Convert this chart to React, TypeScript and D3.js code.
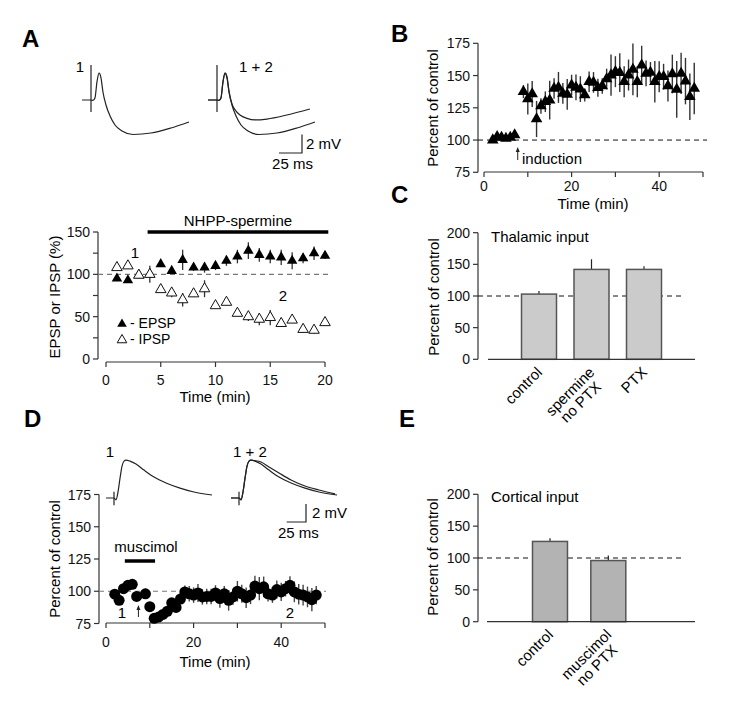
import React from 'react';
import * as d3 from 'd3';

const FONT = "'Liberation Sans', Arial, Helvetica, sans-serif";
const AX = '#333';

// ---------- Panel A data ----------
const timeA = [1, 2, 3, 4, 5, 6, 7, 8, 9, 10, 11, 12, 13, 14, 15, 16, 17, 18, 19, 20];
const epspA = [95, 93, 99, 100, 112, 104, 117, 108, 108, 110, 116, 121, 128, 123, 121, 120, 116, 119, 125, 122];
const epspErrA = [3, 3, 3, 3, 3, 3, 12, 4, 6, 5, 6, 8, 10, 8, 8, 9, 10, 6, 8, 4];
const ipspA = [108, 110, 99, 100, 82, 78, 70, 77, 83, 63, 67, 54, 50, 47, 49, 42, 46, 35, 34, 43];
const ipspErrA = [3, 3, 3, 10, 3, 5, 8, 3, 10, 3, 3, 3, 5, 7, 9, 4, 3, 4, 4, 3];
const drugA = [3.8, 20.3];
const yTicksA = [0, 25, 50, 75, 100, 125, 150];
const yLabelsA = [0, 50, 100, 150];
const xTicksA = [0, 5, 10, 15, 20];

// Panel A traces: [ms, mV]
const traceA1: [number, number][] = [
  [-9.8, 0], [-1, 0], [0, 0], [2.2, -0.05], [4.3, 0.22], [6.5, 1.96], [8.7, 2.93], [10.9, 2.39], [13, 0.87],
  [16.3, -0.54], [20.7, -1.74], [26.1, -2.72], [33.7, -3.37], [45.7, -3.75], [65.2, -3.59], [87, -3.04], [106.5, -2.39],
];
const traceA2: [number, number][] = [
  [-9.8, 0], [-1, 0], [0, 0], [2.2, -0.05], [4.3, 0.22], [6.5, 1.96], [8.7, 2.93], [10.9, 2.5], [13, 1.0],
  [16.3, -0.43], [20.7, -1.2], [25, -1.63], [32.6, -2.0], [41.3, -2.17], [54.3, -2.07], [76, -1.63], [101, -0.98],
];
const artifactA = [3.8, -1.3];

// ---------- Panel B data ----------
const timeB = [2, 3, 4, 5, 6, 7, 9, 10, 11, 12, 13, 14, 15, 16, 17, 18, 19, 20, 21, 22, 23, 24, 25, 26, 27, 28, 29, 30,
  31, 32, 33, 34, 35, 36, 37, 38, 39, 40, 41, 42, 43, 44, 45, 46, 47, 48];
const valB = [100, 102.6, 102, 101.3, 102, 103.9, 137.5, 131.8, 135.7, 116.3, 126.4, 129.7, 131, 140, 140.8, 136.2,
  135.4, 142.6, 140.8, 139.5, 134.9, 145.2, 144.7, 140.6, 141.9, 147.3, 150.4, 153, 152.2, 145.2, 150.4, 154.8, 145.2,
  158.1, 151.7, 152.5, 145.2, 149.1, 149.1, 141.9, 151.2, 139.3, 151.7, 145.7, 133.6, 140];
const errB = [2, 2, 2, 2, 2, 2, 5, 12, 10, 14, 6, 8, 15, 8, 12, 8, 12, 8, 10, 10, 5, 8, 8, 7, 6, 8, 16, 12, 15, 12, 12,
  20, 12, 15, 10, 8, 16, 12, 10, 12, 15, 22, 16, 18, 18, 20];
const yTicksB = [75, 100, 125, 150, 175];
const xTicksB = [0, 10, 20, 30, 40, 50];
const xLabelsB = [0, 20, 40];
const inductionB = 7.7;

// ---------- Panel C data ----------
const catsC = [['control'], ['spermine', 'no PTX'], ['PTX']];
const valC = [103, 142, 142];
const errC = [5, 16, 5];
const yTicksC = [0, 50, 100, 150, 200];

// ---------- Panel D data ----------
const timeD = [2, 3, 4, 5, 6, 7, 9, 10, 11, 12, 13, 14, 15, 16, 17, 18, 19, 20, 21, 22, 23, 24, 25, 26, 27, 28, 29, 30,
  31, 32, 33, 34, 35, 36, 37, 38, 39, 40, 41, 42, 43, 44, 45, 46, 47, 48];
const valD = [97.7, 93, 102, 104.6, 105.4, 96, 98, 88, 79, 80, 82, 84.5, 91, 87.5, 94, 99.5, 98, 97, 98.7, 95.6, 96, 96,
  98.7, 94.3, 98, 93, 95.6, 100, 98, 95, 97, 104, 102, 103.4, 98, 97, 101.3, 99.5, 102, 104.6, 99.5, 97.7, 97, 95.6,
  93.5, 97];
const errD = [3, 3, 3, 3, 3, 3, 4, 3, 2, 2, 2, 3, 3, 3, 4, 5, 6, 6, 7, 6, 6, 6, 6, 7, 6, 8, 6, 8, 7, 8, 7, 8, 9, 8, 6,
  6, 7, 7, 6, 7, 8, 8, 8, 8, 9, 7];
const muscimolD = [4.3, 11.2];
const inductionD = 7.4;
const yTicksD = [75, 100, 125, 150, 175];

const traceD1: [number, number][] = [
  [-10.4, 0], [-1.3, 0], [0, 0], [2.6, -0.2], [5.2, 0.67], [7.8, 2.2], [10.4, 3.55], [13, 4.1], [15.5, 4.2],
  [20.7, 4.1], [28.5, 3.78], [38.9, 3.1], [51.8, 2.33], [67.4, 1.67], [85.5, 1.1], [103.6, 0.67], [127, 0.33],
];
const traceD2: [number, number][] = [
  [-10.4, 0], [-1.3, 0], [0, 0], [2.6, -0.2], [5.2, 0.67], [7.8, 2.2], [10.4, 3.55], [13, 4.1], [15.5, 4.2],
  [20.7, 4.15], [28.5, 4.0], [38.9, 3.45], [51.8, 2.78], [67.4, 2.0], [85.5, 1.33], [103.6, 0.89], [124.4, 0.45],
];
const artifactD = [0.7, -0.8];

// ---------- Panel E data ----------
const catsE = [['control'], ['muscimol', 'no PTX']];
const valE = [126, 96];
const errE = [5, 8];

// ---------- helpers ----------
let _ctx: CanvasRenderingContext2D | null = null;
function textW(s: string, size: number) {
  if (!_ctx) {
    const c = document.createElement('canvas');
    _ctx = c.getContext('2d');
  }
  if (!_ctx) return s.length * size * 0.55;
  _ctx.font = `${size}px 'Liberation Sans', Arial, sans-serif`;
  return _ctx.measureText(s).width;
}

function LeftAxis({ x, scale, ticks, labels, fs = 14 }: any) {
  const [d0, d1] = scale.domain();
  return (
    <g>
      <line x1={x} x2={x} y1={scale(d0)} y2={scale(d1)} stroke={AX} strokeWidth={1.2} />
      {ticks.map((t: number) => (
        <line key={t} x1={x - 5} x2={x} y1={scale(t)} y2={scale(t)} stroke={AX} strokeWidth={1.2} />
      ))}
      {labels.map((t: number) => (
        <text key={t} x={x - 8} y={scale(t)} dy="0.36em" textAnchor="end" fontSize={fs} fill="#111">{t}</text>
      ))}
    </g>
  );
}

function BottomAxis({ y, scale, ticks, labels, fs = 14, labelOff = 18 }: any) {
  const [d0, d1] = scale.domain();
  return (
    <g>
      <line x1={scale(d0)} x2={scale(d1)} y1={y} y2={y} stroke={AX} strokeWidth={1.2} />
      {ticks.map((t: number) => (
        <line key={t} x1={scale(t)} x2={scale(t)} y1={y} y2={y + 5} stroke={AX} strokeWidth={1.2} />
      ))}
      {labels.map((t: number) => (
        <text key={t} x={scale(t)} y={y + labelOff} dy="0.36em" textAnchor="middle" fontSize={fs} fill="#111">{t}</text>
      ))}
    </g>
  );
}

function Arrow({ x, yHead, yTail }: any) {
  return (
    <g>
      <line x1={x} x2={x} y1={yTail} y2={yHead + 3} stroke="#222" strokeWidth={1} />
      <path d={`M${x},${yHead} L${x - 2},${yHead + 5} L${x + 2},${yHead + 5} Z`} fill="#222" />
    </g>
  );
}

function Trace({ ox, oy, xs, ys, pts, art }: any) {
  const line = d3.line<[number, number]>()
    .x((d) => ox + xs(d[0]))
    .y((d) => oy + ys(d[1]))
    .curve(d3.curveMonotoneX);
  return (
    <g>
      <path d={line(pts) || ''} fill="none" stroke="#222" strokeWidth={1.2} />
      {art && <line x1={ox} x2={ox} y1={oy + ys(art[0])} y2={oy + ys(art[1])} stroke="#222" strokeWidth={1.2} />}
    </g>
  );
}

function ScaleBar({ x, y, xs, ys, ms, mv, mvLabel, msLabel, mvDx = 4, msDy = 11 }: any) {
  const w = xs(ms);
  const h = -ys(mv);
  return (
    <g>
      <polyline points={`${x},${y - h} ${x},${y} ${x - w},${y}`} fill="none" stroke="#222" strokeWidth={1.2} />
      <text x={x + mvDx} y={y - h / 2} dy="0.36em" fontSize={15}>{mvLabel}</text>
      <text x={x - w / 2 + 2} y={y + msDy} dy="0.36em" fontSize={15} textAnchor="middle">{msLabel}</text>
    </g>
  );
}

function CatLabel({ x, y, lines, fs = 15 }: any) {
  const widths = lines.map((l: string) => textW(l, fs));
  const maxW = Math.max(...widths);
  return (
    <text transform={`translate(${x},${y}) rotate(-45)`} fontSize={fs}>
      {lines.map((l: string, i: number) => (
        <tspan key={i} x={-maxW / 2} y={i * 15} textAnchor="middle">{l}</tspan>
      ))}
    </text>
  );
}

function BarPanel({ cats, vals, errs, yScale, band, axisX, baseX0, baseX1, fill, title, titleY }: any) {
  const y0 = yScale(0);
  return (
    <g>
      <LeftAxis x={axisX} scale={yScale} ticks={yTicksC} labels={yTicksC} />
      <line x1={axisX} x2={baseX1 - 10} y1={yScale(100)} y2={yScale(100)} stroke="#111" strokeWidth={1} strokeDasharray="5,4" />
      {cats.map((c: string[], i: number) => {
        const bx = band(i)!;
        const cx = bx + band.bandwidth() / 2;
        return (
          <g key={i}>
            <line x1={cx} x2={cx} y1={yScale(vals[i])} y2={yScale(vals[i] + errs[i])} stroke="#222" strokeWidth={1.2} />
            <rect x={bx} y={yScale(vals[i])} width={band.bandwidth()} height={y0 - yScale(vals[i])} fill={fill} stroke="#555" strokeWidth={1.5} />
            <CatLabel x={cx + 4} y={y0 + 14} lines={c} />
          </g>
        );
      })}
      <line x1={baseX0} x2={baseX1} y1={y0} y2={y0} stroke={AX} strokeWidth={1.2} />
      <text x={axisX + 13} y={titleY} dy="0.36em" fontSize={15}>{title}</text>
    </g>
  );
}

export default function App() {
  // Panel A scales
  const xA = d3.scaleLinear().domain([0, 20]).range([106, 325]);
  const yA = d3.scaleLinear().domain([0, 150]).range([359, 232]);
  const msA = d3.scaleLinear().domain([0, 25]).range([0, 23]);
  const mvA = d3.scaleLinear().domain([0, 2]).range([0, -18.4]);

  // Panel B
  const xB = d3.scaleLinear().domain([0, 50]).range([484, 703]);
  const yB = d3.scaleLinear().domain([75, 175]).range([172.3, 43.3]);

  // Panel C
  const yC = d3.scaleLinear().domain([0, 200]).range([359.3, 232.7]);
  const bandC = d3.scaleBand<number>().domain([0, 1, 2]).range([512.75, 670.25]).paddingInner(1 / 3).paddingOuter(1 / 6);

  // Panel D
  const xD = d3.scaleLinear().domain([0, 50]).range([106, 325]);
  const yD = d3.scaleLinear().domain([75, 175]).range([623.5, 494.5]);
  const msD = d3.scaleLinear().domain([0, 25]).range([0, 19.3]);
  const mvD = d3.scaleLinear().domain([0, 2]).range([0, -18]);

  // Panel E
  const yE = d3.scaleLinear().domain([0, 200]).range([621.7, 494.3]);
  const bandE = d3.scaleBand<number>().domain([0, 1]).range([520.85, 637.45]).paddingInner(0.4).paddingOuter(0.2);

  const triFilled = d3.symbol().type(d3.symbolTriangle).size(48)() || '';
  const triLegend = d3.symbol().type(d3.symbolTriangle).size(40)() || '';
  const triB = d3.symbol().type(d3.symbolTriangle).size(58)() || '';

  return (
    <svg width={745} height={723} style={{ position: 'absolute', left: 0, top: 0, background: '#fff' }} fontFamily={FONT}>
      <rect x={0} y={0} width={745} height={723} fill="#fff" />

      {/* Panel letters */}
      <g fontSize={24} fontWeight="bold">
        <text x={22} y={47}>A</text>
        <text x={391} y={42}>B</text>
        <text x={391} y={203}>C</text>
        <text x={24} y={427}>D</text>
        <text x={399} y={427}>E</text>
      </g>

      {/* ===== Panel A traces ===== */}
      <text x={80} y={67} dy="0.36em" textAnchor="middle" fontSize={15}>1</text>
      <Trace ox={91} oy={100} xs={msA} ys={mvA} pts={traceA1} art={artifactA} />
      <text x={256} y={67} dy="0.36em" textAnchor="middle" fontSize={15}>1 + 2</text>
      <Trace ox={217} oy={100} xs={msA} ys={mvA} pts={traceA1} art={artifactA} />
      <Trace ox={217} oy={100} xs={msA} ys={mvA} pts={traceA2} />
      <ScaleBar x={302} y={153} xs={msA} ys={mvA} ms={25} mv={2} mvLabel="2 mV" msLabel="25 ms" mvDx={4} msDy={11} />

      {/* ===== Panel A plot ===== */}
      <LeftAxis x={98} scale={yA} ticks={yTicksA} labels={yLabelsA} />
      <BottomAxis y={362} scale={xA} ticks={xTicksA} labels={xTicksA} />
      <text x={215} y={397} dy="0.36em" textAnchor="middle" fontSize={15}>Time (min)</text>
      <text transform={`translate(55,297) rotate(-90)`} dy="0.36em" textAnchor="middle" fontSize={15}>EPSP or IPSP (%)</text>
      <line x1={98} x2={xA(20) + 3} y1={yA(100)} y2={yA(100)} stroke="#777" strokeWidth={1.2} strokeDasharray="5,4" />
      <line x1={xA(drugA[0])} x2={xA(drugA[1])} y1={232} y2={232} stroke="#000" strokeWidth={3.5} />
      <text x={(xA(drugA[0]) + xA(drugA[1])) / 2} y={221} dy="0.36em" textAnchor="middle" fontSize={15}>NHPP-spermine</text>
      {timeA.map((t, i) => (
        <g key={'ae' + i}>
          <line x1={xA(t)} x2={xA(t)} y1={yA(epspA[i] - epspErrA[i])} y2={yA(epspA[i] + epspErrA[i])} stroke="#333" strokeWidth={1.3} />
          <line x1={xA(t)} x2={xA(t)} y1={yA(ipspA[i] - ipspErrA[i])} y2={yA(ipspA[i] + ipspErrA[i])} stroke="#333" strokeWidth={1.3} />
        </g>
      ))}
      {timeA.map((t, i) => (
        <path key={'ep' + i} d={triFilled} transform={`translate(${xA(t)},${yA(epspA[i])})`} fill="#000" />
      ))}
      {timeA.map((t, i) => (
        <path key={'ip' + i} d={triFilled} transform={`translate(${xA(t)},${yA(ipspA[i])})`} fill="#fff" stroke="#111" strokeWidth={1} />
      ))}
      <text x={135} y={253} dy="0.36em" textAnchor="middle" fontSize={15}>1</text>
      <text x={283} y={296} dy="0.36em" textAnchor="middle" fontSize={15}>2</text>
      <path d={triLegend} transform="translate(122,324)" fill="#000" />
      <text x={130} y={323} dy="0.36em" fontSize={14}>- EPSP</text>
      <path d={triLegend} transform="translate(122,340)" fill="#fff" stroke="#111" strokeWidth={1} />
      <text x={130} y={339} dy="0.36em" fontSize={14}>- IPSP</text>

      {/* ===== Panel B ===== */}
      <LeftAxis x={478} scale={yB} ticks={yTicksB} labels={yTicksB} />
      <BottomAxis y={172} scale={xB} ticks={xTicksB} labels={xLabelsB} labelOff={14} />
      <text x={593} y={204} dy="0.36em" textAnchor="middle" fontSize={15}>Time (min)</text>
      <text transform={`translate(433,108) rotate(-90)`} dy="0.36em" textAnchor="middle" fontSize={15}>Percent of control</text>
      <line x1={478} x2={707} y1={yB(100)} y2={yB(100)} stroke="#111" strokeWidth={1} strokeDasharray="5,4" />
      {timeB.map((t, i) => (
        <line key={'be' + i} x1={xB(t)} x2={xB(t)} y1={yB(valB[i] - errB[i])} y2={yB(valB[i] + errB[i])} stroke="#333" strokeWidth={1.4} />
      ))}
      {timeB.map((t, i) => (
        <path key={'bp' + i} d={triB} transform={`translate(${xB(t)},${yB(valB[i])})`} fill="#000" />
      ))}
      <Arrow x={xB(inductionB)} yHead={147} yTail={160} />
      <text x={522} y={159} dy="0.36em" fontSize={15}>induction</text>

      {/* ===== Panel C ===== */}
      <text transform={`translate(434,297) rotate(-90)`} dy="0.36em" textAnchor="middle" fontSize={15}>Percent of control</text>
      <BarPanel cats={catsC} vals={valC} errs={errC} yScale={yC} band={bandC} axisX={478} baseX0={488} baseX1={695}
        fill="#cbcbcb" title="Thalamic input" titleY={237} />

      {/* ===== Panel D traces ===== */}
      <text x={110} y={452} dy="0.36em" textAnchor="middle" fontSize={15}>1</text>
      <Trace ox={114} oy={498} xs={msD} ys={mvD} pts={traceD1} art={artifactD} />
      <text x={250} y={452} dy="0.36em" textAnchor="middle" fontSize={15}>1 + 2</text>
      <Trace ox={239} oy={498} xs={msD} ys={mvD} pts={traceD1} art={artifactD} />
      <Trace ox={239} oy={498} xs={msD} ys={mvD} pts={traceD2} />
      <ScaleBar x={306} y={522} xs={msD} ys={mvD} ms={25} mv={2} mvLabel="2 mV" msLabel="25 ms" mvDx={6} msDy={11} />

      {/* ===== Panel D plot ===== */}
      <LeftAxis x={99} scale={yD} ticks={yTicksD} labels={yTicksD} />
      <BottomAxis y={623} scale={xD} ticks={xTicksB} labels={xLabelsB} labelOff={19} />
      <text x={215} y={662} dy="0.36em" textAnchor="middle" fontSize={15}>Time (min)</text>
      <text transform={`translate(55,559) rotate(-90)`} dy="0.36em" textAnchor="middle" fontSize={15}>Percent of control</text>
      <line x1={99} x2={326} y1={yD(100)} y2={yD(100)} stroke="#777" strokeWidth={1.2} strokeDasharray="5,4" />
      <line x1={xD(muscimolD[0])} x2={xD(muscimolD[1])} y1={561} y2={561} stroke="#000" strokeWidth={3.5} />
      <text x={146} y={547} dy="0.36em" textAnchor="middle" fontSize={15}>muscimol</text>
      {timeD.map((t, i) => (
        <line key={'de' + i} x1={xD(t)} x2={xD(t)} y1={yD(valD[i] - errD[i])} y2={yD(valD[i] + errD[i])} stroke="#444" strokeWidth={1.4} />
      ))}
      {timeD.map((t, i) => (
        <circle key={'dp' + i} cx={xD(t)} cy={yD(valD[i])} r={5.5} fill="#000" />
      ))}
      <Arrow x={xD(inductionD)} yHead={605} yTail={617} />
      <text x={122} y={613} dy="0.36em" textAnchor="middle" fontSize={15}>1</text>
      <text x={290} y={613} dy="0.36em" textAnchor="middle" fontSize={15}>2</text>

      {/* ===== Panel E ===== */}
      <text transform={`translate(433,557) rotate(-90)`} dy="0.36em" textAnchor="middle" fontSize={15}>Percent of control</text>
      <BarPanel cats={catsE} vals={valE} errs={errE} yScale={yE} band={bandE} axisX={478} baseX0={487} baseX1={695}
        fill="#b3b3b3" title="Cortical input" titleY={497} />
    </svg>
  );
}
